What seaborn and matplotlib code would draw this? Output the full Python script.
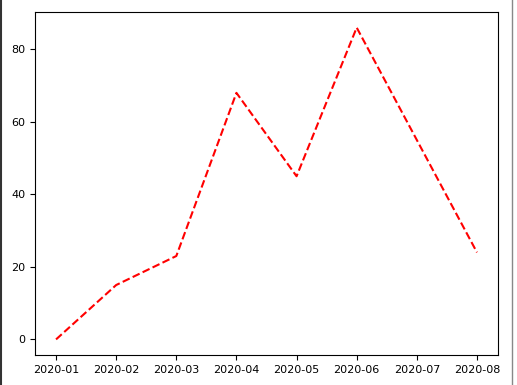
import matplotlib
matplotlib.use("Agg")
import matplotlib.pyplot as plt
from matplotlib.lines import Line2D
import seaborn as sns
import pandas as pd

months = ["2020-01", "2020-02", "2020-03", "2020-04", "2020-05", "2020-06", "2020-07", "2020-08"]
values = [0, 15, 23, 68, 45, 86, 55, 24]

df = pd.DataFrame({"month": months, "value": values})

fig = plt.figure(figsize=(5.17, 3.85), dpi=100)
ax = fig.add_axes([35 / 517, 1 - 355 / 385, (498 - 35) / 517, (355 - 12) / 385])
sns.lineplot(data=df, x="month", y="value", ax=ax, color="red", linestyle="--", linewidth=1.5)
ax.set_xlabel("")
ax.set_ylabel("")
ax.set_yticks([0, 20, 40, 60, 80])
ax.tick_params(labelsize=8)

# screenshot border lines
fig.add_artist(Line2D([0.5 / 517, 0.5 / 517], [0, 1], color="#333333", linewidth=1.5, transform=fig.transFigure))
fig.add_artist(Line2D([512 / 517, 512 / 517], [0, 1], color="#888888", linewidth=1.0, transform=fig.transFigure))

fig.savefig("out.png", dpi=100)
